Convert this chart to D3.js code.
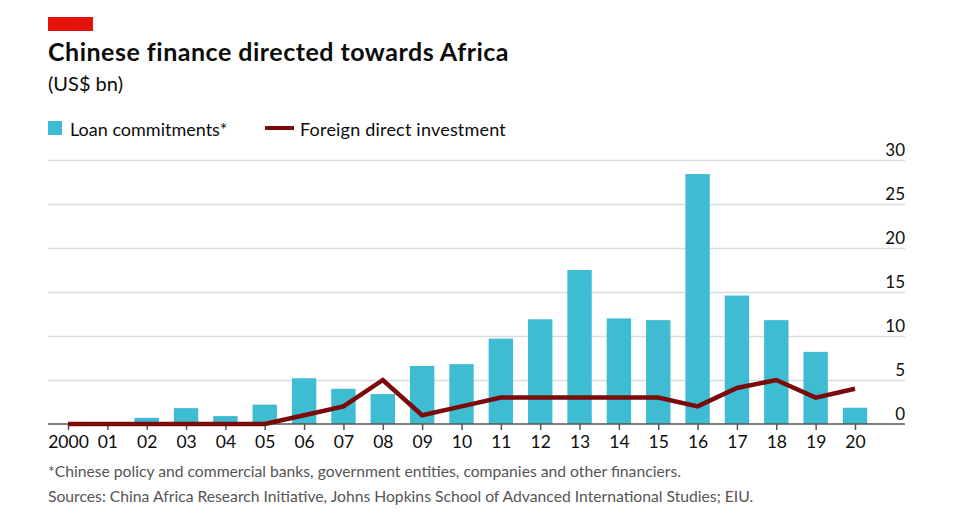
<!DOCTYPE html>
<html>
<head>
<meta charset="utf-8">
<script src="https://cdn.jsdelivr.net/npm/d3@7"></script>
<style>
  body { margin: 0; background: #fff; }
  text { font-family: Lato, "Noto Sans", sans-serif; }
</style>
</head>
<body>
<div id="chart"></div>
<script>
// data
var years = ['2000','01','02','03','04','05','06','07','08','09','10',
             '11','12','13','14','15','16','17','18','19','20'];
var loans = [0, 0.1, 0.7, 1.8, 0.9, 2.2, 5.2, 4.0, 3.4, 6.6, 6.8,
             9.7, 11.9, 17.5, 12.0, 11.8, 28.4, 14.6, 11.8, 8.2, 1.85];
var fdi = [0, 0, 0, 0, 0, 0, 1.0, 2.0, 5.0, 1.0, 2.0,
           3.0, 3.0, 3.0, 3.0, 3.0, 2.0, 4.1, 5.0, 3.0, 4.0];
var yTicks = [0, 5, 10, 15, 20, 25, 30];

var width = 975, height = 525,
    plotLeft = 48, plotRight = 905,
    plotTop = 160, plotBottom = 424;

var svg = d3.select('#chart').append('svg')
    .attr('width', width)
    .attr('height', height);

var x = d3.scalePoint().domain(years).range([68, 855]);
var barW = x.step() * 0.62;
var y = d3.scaleLinear().domain([0, 30]).range([plotBottom, plotTop]);

// header
svg.append('rect').attr('x', 48).attr('y', 17).attr('width', 45).attr('height', 14).attr('fill', '#e3120b');
svg.append('text').attr('x', 48).attr('y', 61)
    .style('font-size', '25px').style('font-weight', 'bold').style('letter-spacing', '0.5px')
    .attr('fill', '#0c0c0c')
    .text('Chinese finance directed towards Africa');
svg.append('text').attr('x', 48).attr('y', 91)
    .style('font-size', '20px').attr('fill', '#0c0c0c')
    .text('(US$ bn)');

// legend
svg.append('rect').attr('x', 48).attr('y', 121).attr('width', 14).attr('height', 14).attr('fill', '#3ebcd2');
svg.append('text').attr('x', 70).attr('y', 136)
    .style('font-size', '18px').attr('fill', '#0c0c0c')
    .text('Loan commitments*');
svg.append('line').attr('x1', 265).attr('x2', 294).attr('y1', 128).attr('y2', 128)
    .attr('stroke', '#7b0a0a').attr('stroke-width', 4);
svg.append('text').attr('x', 300).attr('y', 136)
    .style('font-size', '18px').style('letter-spacing', '0.2px').attr('fill', '#0c0c0c')
    .text('Foreign direct investment');

// gridlines + y labels
var yAxis = svg.append('g').attr('transform', 'translate(' + plotRight + ',0)')
    .call(d3.axisLeft(y).tickValues(yTicks).tickSize(plotRight - plotLeft).tickFormat(d3.format('d')));
yAxis.select('.domain').remove();
yAxis.selectAll('.tick line').attr('stroke', '#d7dde2').attr('stroke-width', 1.5)
    .filter(function(d){ return d === 0; }).remove();
yAxis.selectAll('.tick text')
    .attr('x', 0).attr('dy', -5).attr('text-anchor', 'end')
    .style('font-size', '17px').attr('fill', '#0c0c0c');

// bars
svg.selectAll('rect.bar').data(years)
    .enter().append('rect')
    .attr('class', 'bar')
    .attr('x', function(d){ return x(d) - barW / 2; })
    .attr('width', barW)
    .attr('y', function(d, i){ return y(loans[i]); })
    .attr('height', function(d, i){ return y(0) - y(loans[i]); })
    .attr('fill', '#3ebcd2');

// x axis
var xAxis = svg.append('g').attr('transform', 'translate(0,' + plotBottom + ')')
    .call(d3.axisBottom(x).tickSize(6).tickSizeOuter(0));
xAxis.select('.domain').remove();
svg.append('line').attr('x1', plotLeft).attr('x2', plotRight).attr('y1', plotBottom).attr('y2', plotBottom)
    .attr('stroke', '#555').attr('stroke-width', 1.5);
xAxis.selectAll('.tick line').attr('stroke', '#555').attr('stroke-width', 1.5);
xAxis.selectAll('.tick text').attr('dy', 0).attr('y', 24)
    .style('font-size', '17.5px').attr('fill', '#0c0c0c');

// fdi line
var line = d3.line()
    .x(function(d, i){ return x(years[i]); })
    .y(function(d){ return y(d); });
svg.append('path').datum(fdi)
    .attr('d', line)
    .attr('fill', 'none')
    .attr('stroke', '#7b0a0a')
    .attr('stroke-width', 4.5)
    .attr('stroke-linejoin', 'miter');

// notes
svg.append('text').attr('x', 48).attr('y', 477)
    .style('font-size', '15.7px').attr('fill', '#555')
    .text('*Chinese policy and commercial banks, government entities, companies and other financiers.');
svg.append('text').attr('x', 48).attr('y', 502)
    .style('font-size', '15.7px').attr('fill', '#555')
    .text('Sources: China Africa Research Initiative, Johns Hopkins School of Advanced International Studies; EIU.');
</script>
</body>
</html>
